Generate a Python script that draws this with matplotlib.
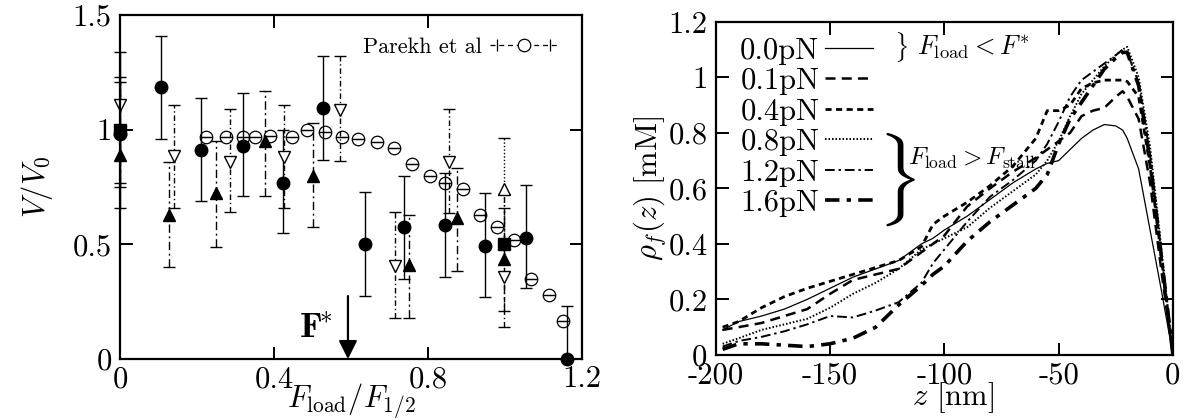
import numpy as np
import matplotlib
matplotlib.use('Agg')
import matplotlib.pyplot as plt
from matplotlib.lines import Line2D
from matplotlib.legend_handler import HandlerLine2D, HandlerTuple

plt.rcParams['font.family'] = 'serif'
plt.rcParams['font.serif'] = ['cmr10']
plt.rcParams['mathtext.fontset'] = 'cm'
plt.rcParams['axes.unicode_minus'] = False
plt.rcParams['axes.formatter.use_mathtext'] = True

# --- left panel data: V/V0 vs F_load/F_1/2 ---
circ_x = [0.0, 0.107, 0.21, 0.32, 0.423, 0.527, 0.635, 0.738, 0.844, 0.948, 1.054, 1.16]
circ_y = [0.98, 1.185, 0.91, 0.93, 0.77, 1.095, 0.50, 0.575, 0.585, 0.495, 0.53, 0.0]
circ_lo = [0.66, 0.96, 0.69, 0.71, 0.55, 0.87, 0.275, 0.35, 0.36, 0.27, 0.31, 0.0]
circ_hi = [1.34, 1.41, 1.14, 1.16, 1.0, 1.32, 0.73, 0.80, 0.81, 0.725, 0.76, 0.23]

tri_x = [0.0, 0.128, 0.25, 0.377, 0.50, 0.75, 0.875, 0.998]
tri_y = [0.89, 0.63, 0.725, 0.95, 0.80, 0.41, 0.615, 0.435]
tri_lo = [0.77, 0.40, 0.49, 0.71, 0.575, 0.18, 0.385, 0.21]
tri_hi = [1.21, 0.86, 0.95, 1.17, 1.03, 0.63, 0.835, 0.66]

dtri_x = [0.0, 0.14, 0.285, 0.427, 0.571, 0.714, 0.855, 0.998]
dtri_y = [1.11, 0.885, 0.86, 0.88, 1.085, 0.405, 0.86, 0.36]
dtri_lo = [0.75, 0.66, 0.64, 0.66, 0.865, 0.18, 0.635, 0.14]
dtri_hi = [1.23, 1.11, 1.09, 1.11, 1.32, 0.64, 1.09, 0.72]

utri_x = [0.998]
utri_y = [0.74]
utri_lo = [0.50]
utri_hi = [0.965]

sq_x = [0.0, 0.998]
sq_y = [1.0, 0.5]

par_x = [0.222, 0.274, 0.32, 0.35, 0.39, 0.446, 0.485, 0.532, 0.576, 0.619, 0.667, 0.712,
         0.758, 0.805, 0.844, 0.89, 0.935, 0.979, 1.023, 1.067, 1.115, 1.151]
par_y = [0.97, 0.97, 0.97, 0.97, 0.975, 0.97, 1.0, 0.99, 0.967, 0.96, 0.948, 0.919,
         0.85, 0.80, 0.77, 0.74, 0.63, 0.575, 0.52, 0.35, 0.28, 0.165]

fstar = 0.592

# --- right panel data: rho_f(z) profiles ---
z = [-197, -190, -180, -170, -160, -150, -140, -130, -120, -110, -105, -100, -90, -80, -70,
     -60, -55, -50, -45, -40, -35, -30, -25, -22, -20, -15, -10, -5, 0]
rho_00 = [0.09, 0.12, 0.14, 0.165, 0.20, 0.24, 0.28, 0.31, 0.34, 0.40, 0.42, 0.45, 0.50, 0.56, 0.62,
          0.67, 0.69, 0.70, 0.74, 0.78, 0.81, 0.83, 0.825, 0.81, 0.78, 0.67, 0.45, 0.23, 0.0]
rho_01 = [0.09, 0.10, 0.115, 0.14, 0.165, 0.22, 0.27, 0.29, 0.31, 0.37, 0.40, 0.43, 0.535, 0.60, 0.66,
          0.71, 0.74, 0.77, 0.80, 0.86, 0.88, 0.89, 0.93, 0.95, 0.93, 0.85, 0.62, 0.30, 0.0]
rho_04 = [0.10, 0.12, 0.17, 0.21, 0.24, 0.265, 0.29, 0.315, 0.34, 0.39, 0.47, 0.50, 0.55, 0.61, 0.68,
          0.78, 0.88, 0.88, 0.90, 0.96, 0.98, 0.99, 0.99, 0.99, 0.985, 0.93, 0.68, 0.35, 0.0]
rho_08 = [0.04, 0.06, 0.09, 0.11, 0.13, 0.17, 0.22, 0.26, 0.31, 0.38, 0.40, 0.42, 0.46, 0.53, 0.59,
          0.65, 0.70, 0.77, 0.86, 0.94, 0.99, 1.04, 1.08, 1.10, 1.11, 1.00, 0.75, 0.38, 0.0]
rho_12 = [0.03, 0.05, 0.065, 0.085, 0.11, 0.14, 0.135, 0.16, 0.19, 0.26, 0.33, 0.38, 0.48, 0.57, 0.63,
          0.70, 0.76, 0.84, 0.93, 0.99, 1.02, 1.05, 1.08, 1.10, 1.09, 0.98, 0.72, 0.36, 0.0]
rho_16 = [0.02, 0.04, 0.04, 0.035, 0.03, 0.04, 0.06, 0.10, 0.18, 0.25, 0.29, 0.32, 0.41, 0.48, 0.54,
          0.60, 0.65, 0.76, 0.85, 0.91, 0.97, 1.03, 1.07, 1.09, 1.09, 0.97, 0.70, 0.35, 0.0]
profiles = [rho_00, rho_01, rho_04, rho_08, rho_12, rho_16]
load_labels = ['0.0pN', '0.1pN', '0.4pN', '0.8pN', '1.2pN', '1.6pN']

left_xticks = [0, 0.4, 0.8, 1.2]
left_xticklabels = ['0', '0.4', '0.8', '1.2']
left_yticks = [0, 0.5, 1, 1.5]
left_yticklabels = ['0', '0.5', '1', '1.5']
right_xticks = [-200, -150, -100, -50, 0]
right_xticklabels = ['-200', '-150', '-100', '-50', '0']
right_yticks = [0, 0.2, 0.4, 0.6, 0.8, 1.0, 1.2]
right_yticklabels = ['0', '0.2', '0.4', '0.6', '0.8', '1', '1.2']

FS = 22


def style_axes(ax):
    for s in ax.spines.values():
        s.set_linewidth(1.6)
    ax.tick_params(direction='in', top=True, right=True, length=9, width=1.4,
                   labelsize=FS)
    ax.tick_params(axis='x', pad=5)
    ax.tick_params(axis='y', pad=6)


def errbars(ax, x, y, lo, hi, fmt, mfc, ls, ms, dashes=None):
    y = np.array(y)
    yerr = [y - np.array(lo), np.array(hi) - y]
    eb = ax.errorbar(x, y, yerr=yerr, fmt=fmt, mfc=mfc, mec='k', color='k', ms=ms,
                     capsize=4, elinewidth=1.0, capthick=1.0, mew=1.0, clip_on=False)
    if dashes is not None:
        eb[2][0].set_linestyle((0, dashes))
    else:
        eb[2][0].set_linestyle(ls)
    return eb


fig = plt.figure(figsize=(12.03, 4.2), dpi=100)

# ---------------- left panel ----------------
ax1 = fig.add_axes([0.0998, 0.145, 0.384, 0.819])
errbars(ax1, circ_x, circ_y, circ_lo, circ_hi, 'o', 'k', '-', 9)
errbars(ax1, tri_x, tri_y, tri_lo, tri_hi, '^', 'k', None, 8, dashes=(6, 2.5, 1.5, 2.5))
errbars(ax1, dtri_x, dtri_y, dtri_lo, dtri_hi, 'v', 'white', None, 8.5, dashes=(4, 2, 1, 2))
errbars(ax1, utri_x, utri_y, utri_lo, utri_hi, '^', 'white', None, 8.5, dashes=(1, 1.5))
ax1.plot(sq_x, sq_y, 's', color='k', ms=8, zorder=4, clip_on=False)

# Parekh et al: open circles with a cap through the centre
ax1.errorbar(par_x, par_y, yerr=0.0, fmt='o', mfc='none', mec='k', ms=9, mew=0.9,
             capsize=4.5, capthick=0.9, ecolor='k')

# legend sample |--o--|
leg_line = Line2D([], [], color='k', lw=0.9, ls=(0, (4, 3)))
leg_caps = Line2D([], [], color='k', ls='none', marker='|', ms=9, mew=0.9)
leg_circ = Line2D([], [], color='k', ls='none', marker='o', mfc='white', mec='k', ms=9, mew=0.9)
ax1.legend([(leg_line, leg_caps, leg_circ)], ['Parekh et al'], loc='upper right',
           bbox_to_anchor=(0.975, 0.975), frameon=False, markerfirst=False, fontsize=16,
           handlelength=3.0, handletextpad=0.4, borderaxespad=0.2,
           handler_map={leg_caps: HandlerLine2D(numpoints=2),
                        leg_circ: HandlerLine2D(numpoints=1),
                        tuple: HandlerTuple(ndivide=1)})

ax1.annotate('', xy=(fstar, 0.0), xytext=(fstar, 0.275),
             arrowprops=dict(arrowstyle='-|>', color='k', lw=1.6, mutation_scale=28,
                             shrinkA=0, shrinkB=0))
ax1.text(fstar - 0.04, 0.13, r'$\mathbf{F}^{\!\mathbf{*}}$', fontsize=26, ha='right', va='center')

ax1.set_xlim(0, 1.2)
ax1.set_ylim(0, 1.5)
ax1.set_xticks(left_xticks)
ax1.set_xticklabels(left_xticklabels)
ax1.set_yticks(left_yticks)
ax1.set_yticklabels(left_yticklabels)
style_axes(ax1)
ax1.set_xlabel(r'$F_{\rm load}/F_{1/2}$', fontsize=FS)
ax1.set_ylabel(r'$V/V_0$', fontsize=FS)
ax1.xaxis.set_label_coords(0.5, -0.065)
ax1.yaxis.set_label_coords(-0.14, 0.5)

# ---------------- right panel ----------------
ax2 = fig.add_axes([0.595, 0.155, 0.380, 0.793])
styles = [
    dict(ls='-', lw=0.9),
    dict(ls=(0, (4, 2.5)), lw=1.8),
    dict(ls=(0, (2.2, 1.6)), lw=2.0),
    dict(ls=(0, (0.8, 1.0)), lw=1.4),
    dict(ls=(0, (5, 2, 1.2, 2)), lw=1.4),
    dict(ls=(0, (4, 2, 1.2, 2)), lw=2.6),
]
handles = []
for rho, st, lab in zip(profiles, styles, load_labels):
    h, = ax2.plot(z, rho, color='k', label=lab, **st)
    handles.append(h)

ax2.legend(handles, load_labels, loc='upper left', bbox_to_anchor=(0.02, 1.0),
           frameon=False, markerfirst=False, fontsize=FS, handlelength=1.55,
           handletextpad=0.2, labelspacing=0.1, borderaxespad=0.1)

ax2.text(0.405, 0.925, r'$\}$', transform=ax2.transAxes, fontsize=18, ha='center', va='center')
ax2.text(0.44, 0.925, r'$F_{\rm load} < F^{*}$', transform=ax2.transAxes, fontsize=19,
         ha='left', va='center')
ax2.text(0.395, 0.525, r'$\}$', transform=ax2.transAxes, fontsize=56, ha='center', va='center')
ax2.text(0.42, 0.59, r'$F_{\rm load} > F_{\rm stall}$', transform=ax2.transAxes, fontsize=18,
         ha='left', va='center')

ax2.set_xlim(-200, 0)
ax2.set_ylim(0, 1.2)
ax2.set_xticks(right_xticks)
ax2.set_xticklabels(right_xticklabels)
ax2.set_yticks(right_yticks)
ax2.set_yticklabels(right_yticklabels)
style_axes(ax2)
ax2.set_xlabel(r'$z$ [nm]', fontsize=FS)
ax2.set_ylabel(r'$\rho_f(z)$ [mM]', fontsize=FS)
ax2.xaxis.set_label_coords(0.52, -0.075)
ax2.yaxis.set_label_coords(-0.105, 0.5)

fig.savefig('out.png', dpi=100)
